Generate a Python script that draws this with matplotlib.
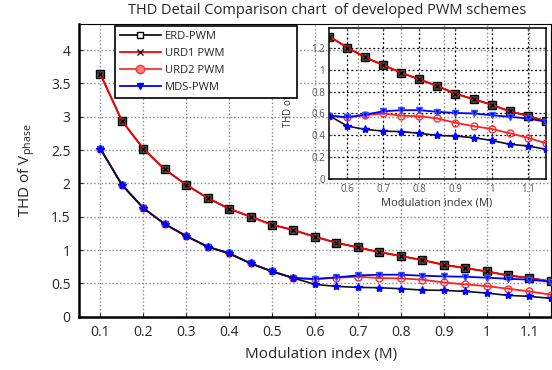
import matplotlib
matplotlib.use("Agg")
import matplotlib.pyplot as plt
from matplotlib.lines import Line2D

plt.rcParams['font.family'] = ['Open Sans', 'DejaVu Sans']
plt.rcParams['mathtext.fontset'] = 'custom'
plt.rcParams['mathtext.rm'] = 'Open Sans'

# Modulation index
m = [0.10, 0.15, 0.20, 0.25, 0.30, 0.35, 0.40, 0.45, 0.50, 0.55, 0.60,
     0.65, 0.70, 0.75, 0.80, 0.85, 0.90, 0.95, 1.00, 1.05, 1.10, 1.15]

erd_pwm = [3.64, 2.94, 2.52, 2.21, 1.98, 1.78, 1.62, 1.50, 1.38, 1.30, 1.20,
           1.11, 1.04, 0.97, 0.91, 0.85, 0.78, 0.73, 0.68, 0.62, 0.58, 0.53]
urd1_pwm = [3.64, 2.94, 2.52, 2.21, 1.98, 1.78, 1.62, 1.50, 1.38, 1.30, 1.20,
            1.11, 1.04, 0.97, 0.91, 0.85, 0.78, 0.73, 0.68, 0.62, 0.58, 0.53]
urd2_pwm = [2.52, 1.98, 1.63, 1.39, 1.21, 1.05, 0.95, 0.80, 0.68, 0.58, 0.565,
            0.585, 0.60, 0.58, 0.575, 0.555, 0.515, 0.485, 0.46, 0.42, 0.38, 0.33]
mds_pwm = [2.52, 1.98, 1.63, 1.39, 1.21, 1.05, 0.95, 0.80, 0.68, 0.58, 0.565,
           0.59, 0.62, 0.63, 0.63, 0.615, 0.605, 0.60, 0.585, 0.57, 0.555, 0.525]
base_line = [2.52, 1.98, 1.63, 1.39, 1.21, 1.05, 0.95, 0.80, 0.68, 0.58, 0.485,
             0.455, 0.44, 0.435, 0.42, 0.40, 0.395, 0.38, 0.355, 0.32, 0.305, 0.275]

labels = ['ERD-PWM', 'URD1 PWM', 'URD2 PWM', 'MDS-PWM']
main_xticks = [0.1, 0.2, 0.3, 0.4, 0.5, 0.6, 0.7, 0.8, 0.9, 1.0, 1.1]
main_xticklabels = ['0.1', '0.2', '0.3', '0.4', '0.5', '0.6', '0.7', '0.8', '0.9', '1', '1.1']
main_yticks = [0, 0.5, 1, 1.5, 2, 2.5, 3, 3.5, 4]
main_yticklabels = ['0', '0.5', '1', '1.5', '2', '2.5', '3', '3.5', '4']
inset_xticks = [0.6, 0.7, 0.8, 0.9, 1.0, 1.1]
inset_xticklabels = ['0.6', '0.7', '0.8', '0.9', '1', '1.1']
inset_yticks = [0, 0.2, 0.4, 0.6, 0.8, 1.0, 1.2]
inset_yticklabels = ['0', '0.2', '0.4', '0.6', '0.8', '1', '1.2']


def draw(ax, sq=6, mk=5):
    ax.plot(m, erd_pwm, color='black', lw=1.2, marker='s', ms=sq,
            mfc='#505050', mec='black', mew=1.0, zorder=2)
    ax.plot(m, urd1_pwm, color='red', lw=1.3, marker='x', ms=sq * 0.6,
            mec='black', mew=1.0, zorder=3)
    ax.plot(m, urd2_pwm, color='#ff2020', lw=1.3, marker='o', ms=mk,
            mfc='none', mec='#ff3030', mew=1.0, zorder=3)
    ax.plot(m, mds_pwm, color='blue', lw=1.3, marker='v', ms=mk,
            mfc='blue', mec='#3050ff', zorder=4)
    ax.plot(m, base_line, color='#101020', lw=1.2, marker='*', ms=mk + 1,
            mfc='blue', mec='blue', zorder=5)


fig = plt.figure(figsize=(5.52, 3.70), dpi=100)
ax = fig.add_axes([0.143, 0.144, 0.855, 0.791])
draw(ax)
ax.set_xlim(0.05, 1.15)
ax.set_ylim(0, 4.39)
ax.set_xticks(main_xticks)
ax.set_xticklabels(main_xticklabels)
ax.set_yticks(main_yticks)
ax.set_yticklabels(main_yticklabels)
ax.tick_params(direction='in', length=3, labelsize=10, colors='#262626',
               pad=6)
ax.grid(True, linestyle=':', color='#888888', lw=1.0)
for s in ['left', 'bottom']:
    ax.spines[s].set_linewidth(1.8)
for s in ['top', 'right']:
    ax.spines[s].set_linewidth(0.8)
ax.set_xlabel('Modulation index (M)', fontsize=11, color='#262626')
ax.xaxis.set_label_coords(0.514, -0.105)
ax.set_ylabel(r'THD of V$_{\rm phase}$', fontsize=11, color='#262626')
ax.yaxis.set_label_coords(-0.089, 0.5)

# inset
ins = fig.add_axes([0.5965, 0.515, 0.392, 0.41])
ins.patch.set_alpha(0.0)
draw(ins, sq=5.5, mk=5)
ins.set_xlim(0.55, 1.15)
ins.set_ylim(0, 1.38)
ins.set_xticks(inset_xticks)
ins.set_xticklabels(inset_xticklabels)
ins.set_yticks(inset_yticks)
ins.set_yticklabels(inset_yticklabels)
ins.tick_params(direction='in', length=2.5, labelsize=7, colors='#555555',
                pad=3, top=True, right=True)
ins.grid(True, linestyle=(0, (1.5, 2)), color='black', lw=0.9)
for s in ins.spines.values():
    s.set_linewidth(1.1)
ins.set_xlabel('Modulation index (M)', fontsize=8, color='#333333')
ins.xaxis.set_label_coords(0.497, -0.12)
ins.set_ylabel(r'THD of V$_{\rm phase}$', fontsize=7, color='#333333')
ins.yaxis.set_label_coords(-0.15, 0.54)

# legend (drawn on top of everything)
handles = [
    Line2D([], [], color='black', lw=1.2, marker='s', ms=5, mfc='white', mec='black'),
    Line2D([], [], color='red', lw=1.3, marker='x', ms=4, mec='black'),
    Line2D([], [], color='#ff3030', lw=1.3, marker='o', ms=6, mfc='#ff8080', mec='#ff3030'),
    Line2D([], [], color='blue', lw=1.3, marker='v', ms=5, mfc='blue', mec='blue'),
]
leg = fig.legend(handles, labels, loc='upper left',
                 bbox_to_anchor=(0.208, 0.931, 0.33, 0.0), mode='expand',
                 borderaxespad=0, fontsize=8, handlelength=3.7,
                 labelspacing=0.55, fancybox=False, framealpha=1,
                 edgecolor='black', borderpad=0.45, handletextpad=0.4)
leg.get_frame().set_linewidth(1.2)
for t in leg.get_texts():
    t.set_color('#262626')

fig.text(0.593, 0.972, 'THD Detail Comparison chart  of developed PWM schemes',
         ha='center', va='center', fontsize=10.5, color='#262626')

fig.savefig('out.png', dpi=100)
